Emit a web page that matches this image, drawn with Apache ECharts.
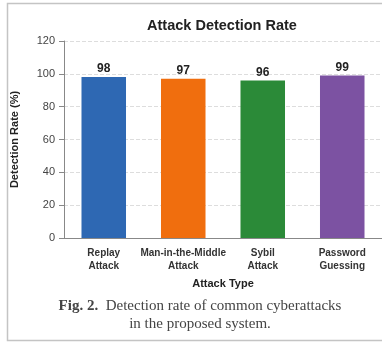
<!DOCTYPE html>
<html><head><meta charset="utf-8">
<script src="https://cdn.jsdelivr.net/npm/echarts@6/dist/echarts.min.js"></script>
<style>html,body{margin:0;padding:0;background:#fff}#c{width:382px;height:343px}</style>
</head><body><div id="c"></div>
<script>
const categories = ['Replay\nAttack', 'Man-in-the-Middle\nAttack', 'Sybil\nAttack', 'Password\nGuessing'];
const values = [98, 97, 96, 99];
const colors = ['#2e68b3', '#f06e0e', '#2b8a38', '#7c52a2'];
const yTicks = [0, 20, 40, 60, 80, 100, 120];

const chart = echarts.init(document.getElementById('c'), null, {renderer: 'canvas'});
chart.setOption({
  backgroundColor: '#fff',
  animation: false,
  title: [{
    text: 'Attack Detection Rate', left: 217, top: 13, textAlign: 'center',
    textStyle: {fontFamily: 'Liberation Sans', fontSize: 14.5, fontWeight: 'bold', color: '#222'}
  }, {
    text: '{b|Fig. 2.}  Detection rate of common cyberattacks\nin the proposed system.',
    left: 195, top: 292, textAlign: 'center',
    textStyle: {fontFamily: 'Liberation Serif', fontSize: 15, fontWeight: 'normal', color: '#444', lineHeight: 18, align: 'center',
      rich: {b: {fontFamily: 'Liberation Serif', fontSize: 15, fontWeight: 'bold', color: '#444', lineHeight: 18}}}
  }],
  graphic: [{
    type: 'rect', shape: {x: 7.5, y: 3.5, width: 380, height: 337},
    style: {fill: 'none', stroke: '#c4c4c4', lineWidth: 1.5}, silent: true, z: -1
  }],
  grid: {left: 64, right: -3, top: 41, bottom: 105},
  xAxis: {
    type: 'category', data: categories,
    name: 'Attack Type', nameLocation: 'middle', nameGap: 40,
    nameTextStyle: {fontFamily: 'Liberation Sans', fontSize: 11, fontWeight: 'bold', color: '#222'},
    axisLine: {lineStyle: {color: '#888'}}, axisTick: {show: false},
    axisLabel: {fontFamily: 'Liberation Sans', fontSize: 10, fontWeight: 'bold', color: '#333', lineHeight: 13, margin: 9, interval: 0}
  },
  yAxis: {
    type: 'value', min: 0, max: 120, interval: 20,
    name: 'Detection Rate (%)', nameLocation: 'middle', nameGap: 44,
    nameTextStyle: {fontFamily: 'Liberation Sans', fontSize: 11, fontWeight: 'bold', color: '#222'},
    axisLine: {show: true, lineStyle: {color: '#888'}},
    axisTick: {show: true, length: 5, lineStyle: {color: '#888'}},
    axisLabel: {fontFamily: 'Liberation Sans', fontSize: 11, color: '#444', margin: 9,
      formatter: v => yTicks.includes(v) ? String(v) : ''},
    splitLine: {lineStyle: {color: '#ddd', type: 'dashed'}}
  },
  series: [{
    type: 'bar', barWidth: '56%',
    data: values.map((v, i) => ({value: v, itemStyle: {color: colors[i]}})),
    label: {show: true, position: 'top', distance: 2,
      fontFamily: 'Liberation Sans', fontSize: 12, fontWeight: 'bold', color: '#222'}
  }]
});
</script></body></html>
